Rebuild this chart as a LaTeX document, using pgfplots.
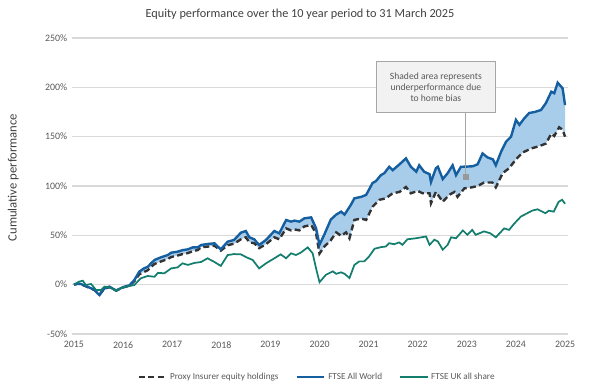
\documentclass[border=0pt]{standalone}
\usepackage{pgfplots}
\pgfplotsset{compat=1.18}
\usepgfplotslibrary{fillbetween}
\usepackage{fontspec}
\setmainfont{Carlito}
\definecolor{worldblue}{RGB}{21,95,160}
\definecolor{ukteal}{RGB}{20,126,110}
\definecolor{shadeblue}{RGB}{168,205,235}
\definecolor{proxy}{RGB}{51,51,51}
\definecolor{txtgray}{RGB}{89,89,89}
\definecolor{gridgray}{RGB}{217,217,217}
\begin{document}
\begin{tikzpicture}
\begin{axis}[
  at={(0,0)}, anchor=south west,
  scale only axis, width=372pt, height=222pt,
  xmin=2014.96, xmax=2025.06, ymin=-50, ymax=250,
  xtick={2015,2016,...,2025}, ytick={-50,0,...,250},
  axis line style={draw=none},
  major tick length=0pt,
  ymajorgrids, grid style={gridgray, line width=0.8pt},
  /pgf/number format/1000 sep={},
  /pgf/number format/assume math mode=true,
  yticklabel={\pgfmathprintnumber{\tick}\%},
  ticklabel style={font=\fontsize{7.4}{8}\selectfont, text=txtgray},
  xticklabel style={yshift=-2pt},
  set layers=standard,
  legend columns=3,
  legend style={at={(0.495,-0.145)}, anchor=center, draw=none, fill=none,
    font=\fontsize{6.9}{8}\selectfont, text=txtgray,
    /tikz/every even column/.append style={column sep=11pt}},
  legend image code/.code={\draw[#1] (0cm,0cm) -- (0.72cm,0cm);},
]
\addplot[proxy, line width=1.8pt, dash pattern=on 4.5pt off 2.5pt, name path=P] coordinates {
(2015.00,0) (2015.08,1) (2015.14,0.5) (2015.24,-1.6) (2015.35,-4) (2015.42,-5.5) (2015.48,-8.5) (2015.52,-10)
(2015.62,-4) (2015.72,-2.5) (2015.86,-6) (2015.99,-3) (2016.13,-1) (2016.23,3.5) (2016.33,10.5) (2016.43,13)
(2016.50,14.5) (2016.57,18) (2016.64,21) (2016.77,23.5) (2016.91,26) (2016.98,28) (2017.11,29.5) (2017.21,31)
(2017.32,32) (2017.42,34) (2017.52,35) (2017.59,38) (2017.72,38.5) (2017.86,39.5) (2017.99,34.5) (2018.13,40)
(2018.26,41.5) (2018.40,46) (2018.50,48) (2018.57,43) (2018.67,42) (2018.77,37) (2018.91,41) (2019.08,48)
(2019.18,46) (2019.32,57) (2019.42,55) (2019.49,56) (2019.59,55) (2019.69,59) (2019.83,60.5) (2019.93,52)
(2020.00,31.5) (2020.10,38.7) (2020.23,45) (2020.34,53) (2020.44,49.5) (2020.54,53) (2020.61,47) (2020.71,65.6)
(2020.85,67) (2020.95,65.6) (2021.08,79) (2021.22,86) (2021.35,87.5) (2021.49,92.6) (2021.63,94) (2021.76,99)
(2021.86,92.6) (2022.00,95) (2022.10,92.6) (2022.24,92.6) (2022.27,82.5) (2022.37,94) (2022.51,84) (2022.64,91)
(2022.75,94) (2022.81,89) (2022.95,97.6) (2023.11,98.7) (2023.22,100) (2023.35,103.5) (2023.52,103.5) (2023.59,98.6)
(2023.73,113) (2023.86,118) (2024.00,127) (2024.14,134) (2024.31,138) (2024.48,140.5) (2024.61,143) (2024.72,153)
(2024.78,150.7) (2024.88,159.5) (2024.95,157) (2025.00,150)};
\addlegendentry{Proxy Insurer equity holdings}
\addplot[worldblue, line width=1.8pt, name path=W] coordinates {
(2015.00,0) (2015.08,1) (2015.14,0.7) (2015.24,-1.4) (2015.35,-3.7) (2015.42,-5) (2015.48,-8.8) (2015.52,-10.5)
(2015.62,-3.7) (2015.72,-2) (2015.86,-6) (2015.99,-2.7) (2016.13,-0.7) (2016.23,4.7) (2016.33,13.2) (2016.43,16.6)
(2016.50,18) (2016.57,21.6) (2016.64,25) (2016.77,27.7) (2016.91,30) (2016.98,32.4) (2017.11,33.4) (2017.21,35)
(2017.32,35.8) (2017.42,37.8) (2017.52,37.8) (2017.59,40.2) (2017.72,41.2) (2017.86,41.9) (2017.99,35.8) (2018.13,43.6)
(2018.26,45.3) (2018.40,52.7) (2018.50,54.4) (2018.57,48) (2018.67,46) (2018.77,40.2) (2018.91,45.3) (2019.08,54.4)
(2019.18,52) (2019.32,65.5) (2019.42,63.9) (2019.49,64.9) (2019.59,63.9) (2019.69,67.2) (2019.83,68.2) (2019.93,57)
(2020.00,40.5) (2020.10,51) (2020.23,66) (2020.34,71) (2020.44,74) (2020.51,71) (2020.64,81) (2020.71,87.5)
(2020.85,89) (2020.95,91) (2021.08,103) (2021.15,105) (2021.25,111) (2021.32,113) (2021.42,119.5) (2021.49,116)
(2021.63,122) (2021.76,128) (2021.86,119.5) (2021.97,114.5) (2022.03,121) (2022.13,114.5) (2022.24,112) (2022.27,104)
(2022.37,118) (2022.41,119.5) (2022.51,107) (2022.61,113) (2022.71,121) (2022.78,111) (2022.88,119.5) (2022.98,119.6)
(2023.12,120) (2023.22,122) (2023.32,133) (2023.42,129) (2023.53,127) (2023.59,121) (2023.70,135) (2023.80,145)
(2023.90,150) (2024.00,167) (2024.07,162) (2024.17,168.6) (2024.27,174) (2024.38,175) (2024.51,177) (2024.61,184)
(2024.72,195.6) (2024.78,194) (2024.85,204.7) (2024.95,199) (2025.00,182)};
\addlegendentry{FTSE All World}
\addplot[ukteal, line width=1.3pt] coordinates {
(2015.00,0) (2015.10,3) (2015.18,4) (2015.24,-0.3) (2015.35,0.7) (2015.45,-5.4) (2015.55,-5.4) (2015.62,-2)
(2015.72,-2.7) (2015.86,-6) (2015.99,-2.7) (2016.13,-1.4) (2016.23,-0.3) (2016.36,6.4) (2016.50,8.8) (2016.64,8)
(2016.71,12) (2016.84,11.5) (2016.98,16.5) (2017.11,17.5) (2017.21,21.6) (2017.32,20) (2017.45,22) (2017.59,23)
(2017.72,26.7) (2017.86,23) (2017.99,19) (2018.13,30) (2018.26,31) (2018.40,30.7) (2018.50,28) (2018.64,25)
(2018.77,16.5) (2018.91,21.6) (2019.08,26.7) (2019.21,30.7) (2019.32,26.7) (2019.42,31.8) (2019.52,30) (2019.62,32.5)
(2019.76,37.8) (2019.86,31.8) (2019.93,16.5) (2020.00,2.5) (2020.13,10) (2020.27,13.5) (2020.34,11) (2020.44,12.5)
(2020.51,11) (2020.61,6.7) (2020.71,20) (2020.81,23.6) (2020.91,23.6) (2021.01,28.6) (2021.12,36.4) (2021.25,38)
(2021.35,38.7) (2021.42,42) (2021.52,41) (2021.62,42.8) (2021.69,40.4) (2021.79,46) (2021.96,47) (2022.17,48.8)
(2022.24,40.4) (2022.34,45.5) (2022.41,43.8) (2022.51,35.4) (2022.61,40.4) (2022.68,48) (2022.78,47) (2022.92,55)
(2023.01,50.5) (2023.11,55.5) (2023.18,50.5) (2023.35,54) (2023.48,52) (2023.59,48) (2023.76,57) (2023.86,55.5)
(2023.96,61.6) (2024.10,69) (2024.23,72.4) (2024.33,75) (2024.44,76.4) (2024.60,72.4) (2024.67,75) (2024.77,74)
(2024.87,84) (2024.94,86) (2025.00,82)};
\addlegendentry{FTSE UK all share}
\addplot[fill=shadeblue, draw=none, forget plot] fill between[of=W and P];
\draw[gray!70, line width=0.6pt] (axis cs:2022.98,174.4) -- (axis cs:2022.98,109.5);
\addplot[only marks, mark=square*, mark size=1.8pt, color=gray!80, forget plot] coordinates {(2022.98,109.5)};
\coordinate (boxc) at (axis cs:2022.37,200.2);
\end{axis}
\node[draw=gray!70, fill=gray!10, line width=0.6pt, minimum width=88.5pt, minimum height=38pt, inner sep=0pt] (box) at (boxc) {};
\begin{scope}[every node/.style={font=\fontsize{7.2}{8.8}\selectfont, text=txtgray, inner sep=0pt, anchor=base}]
\node at ([yshift=5.6pt]box.center) {Shaded area represents};
\node at ([yshift=-2.6pt]box.center) {underperformance due};
\node at ([yshift=-10.8pt]box.center) {to home bias};
\end{scope}
\node[font=\fontsize{9.2}{10}\selectfont, text=black!75] at (171pt,240pt) {Equity performance over the 10 year period to 31 March 2025};
\node[rotate=90, font=\fontsize{9.5}{10}\selectfont, text=black!75] at (-44pt,117.4pt) {Cumulative performance};
\pgfresetboundingbox
\useasboundingbox (-54pt,-37.5pt) rectangle (396pt,250.5pt);
\end{tikzpicture}
\end{document}
